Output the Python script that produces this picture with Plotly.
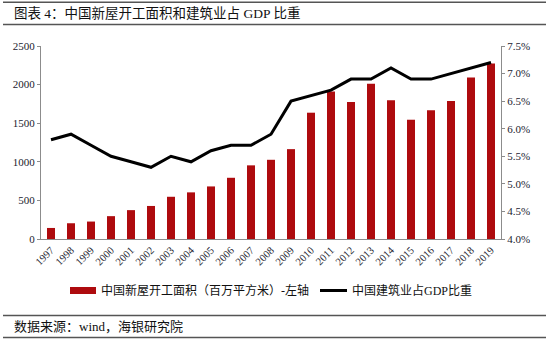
import plotly.graph_objects as go

# 年份与数据
years = [str(y) for y in range(1997, 2020)]
new_starts = [143, 204, 226, 296, 374, 428, 547, 604, 681, 793, 954, 1026, 1164,
              1636, 1912, 1773, 2012, 1796, 1545, 1669, 1787, 2093, 2272]
construction_share = [5.8, 5.9, 5.7, 5.5, 5.4, 5.3, 5.5, 5.4, 5.6, 5.7, 5.7, 5.9, 6.5,
                      6.6, 6.7, 6.9, 6.9, 7.1, 6.9, 6.9, 7.0, 7.1, 7.2]
left_ticks = [0, 500, 1000, 1500, 2000, 2500]
right_ticks = [4.0, 4.5, 5.0, 5.5, 6.0, 6.5, 7.0, 7.5]

title_text = "图表 4：中国新屋开工面积和建筑业占 GDP 比重"
bar_name = "中国新屋开工面积（百万平方米）-左轴"
line_name = "中国建筑业占GDP比重"
source_text = "数据来源：wind，海银研究院"

BAR_RED = "#AE0B0E"
SERIF = "Liberation Serif, Noto Sans CJK SC, serif"
CJK = "Liberation Serif, Noto Sans CJK SC, sans-serif"

W, H = 546, 341
L, R, T, B = 41, 45, 46, 102
PW, PH = W - L - R, H - T - B


def px_x(x):
    return (x - L) / PW


def px_y(y):
    return (H - B - y) / PH


fig = go.Figure()
fig.add_trace(go.Bar(x=years, y=new_starts, name=bar_name,
                     marker=dict(color=BAR_RED, line=dict(width=0)),
                     yaxis="y", showlegend=False))
fig.add_trace(go.Scatter(x=years, y=construction_share, name=line_name,
                         mode="lines", line=dict(color="black", width=3),
                         yaxis="y2", showlegend=False))

shapes = []
# 标题与来源的分隔线
for yy in (2.3, 24.5, 315.5, 337.5):
    shapes.append(dict(type="line", xref="paper", yref="paper",
                       x0=px_x(3), x1=px_x(546), y0=px_y(yy), y1=px_y(yy),
                       line=dict(color="#555555", width=1.5)))
# 图例符号
shapes.append(dict(type="rect", xref="paper", yref="paper",
                   x0=px_x(70), x1=px_x(96), y0=px_y(294), y1=px_y(287),
                   fillcolor=BAR_RED, line=dict(width=0)))
shapes.append(dict(type="line", xref="paper", yref="paper",
                   x0=px_x(320), x1=px_x(347), y0=px_y(290.5), y1=px_y(290.5),
                   line=dict(color="black", width=3)))

annotations = [
    dict(text=title_text, xref="paper", yref="paper", x=px_x(12), y=px_y(13.5),
         xanchor="left", yanchor="middle", showarrow=False,
         font=dict(family=CJK, size=13.5, color="#111111")),
    dict(text=bar_name, xref="paper", yref="paper", x=px_x(99), y=px_y(290.5),
         xanchor="left", yanchor="middle", showarrow=False,
         font=dict(family=CJK, size=12, color="#111111")),
    dict(text=line_name, xref="paper", yref="paper", x=px_x(350), y=px_y(290.5),
         xanchor="left", yanchor="middle", showarrow=False,
         font=dict(family=CJK, size=12, color="#111111")),
    dict(text=source_text, xref="paper", yref="paper", x=px_x(12), y=px_y(326.5),
         xanchor="left", yanchor="middle", showarrow=False,
         font=dict(family=CJK, size=13, color="#111111")),
]

fig.update_layout(
    width=W, height=H,
    margin=dict(l=L, r=R, t=T, b=B, pad=0),
    paper_bgcolor="white", plot_bgcolor="white",
    bargap=0.6,
    font=dict(family=SERIF, size=11, color="#1b1b2e"),
    xaxis=dict(type="category", range=[-0.5, 22.5], tickangle=-45,
               showline=True, linecolor="#8c8c8c", linewidth=1,
               ticks="", showgrid=False, tickfont=dict(size=10.5),
               fixedrange=True),
    yaxis=dict(range=[0, 2500], tickvals=left_ticks,
               showline=True, linecolor="#8c8c8c", linewidth=1,
               ticks="outside", ticklen=3, tickcolor="#8c8c8c",
               showgrid=False, zeroline=False),
    yaxis2=dict(range=[4.0, 7.5], tickvals=right_ticks,
                ticktext=[f"{v:.1f}%" for v in right_ticks],
                overlaying="y", side="right",
                showline=True, linecolor="#8c8c8c", linewidth=1,
                ticks="outside", ticklen=3, tickcolor="#8c8c8c",
                showgrid=False, zeroline=False),
    shapes=shapes,
    annotations=annotations,
)

fig.write_html("out.html")
